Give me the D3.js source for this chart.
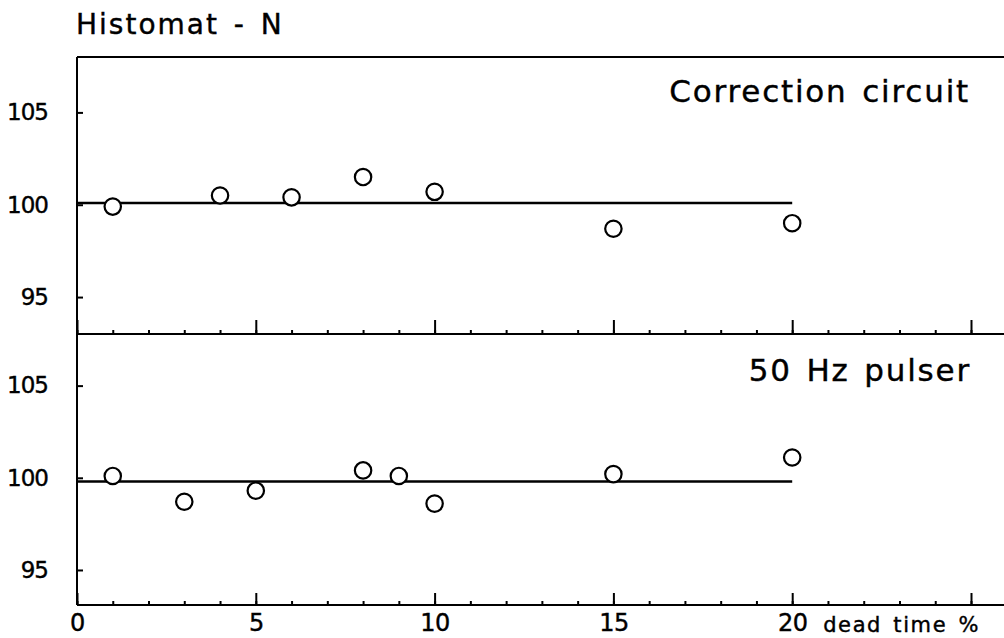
<!DOCTYPE html>
<html>
<head>
<meta charset="utf-8">
<script src="https://cdn.jsdelivr.net/npm/d3@7"></script>
<style>
  html, body { margin: 0; padding: 0; background: #fff; }
  svg { display: block; }
  text { font-family: "DejaVu Sans", sans-serif; fill: #000; stroke: #000; stroke-width: 0.4; }
</style>
</head>
<body>
<svg id="chart" width="1004" height="638"></svg>
<script>
// Dead-time correction check, Histomat-N counter
const deadTimeTop = [1, 4, 6, 8, 10, 15, 20];
const ratioTop = [99.9, 100.5, 100.4, 101.5, 100.7, 98.7, 99.0];
const referenceTop = 100.1;

const deadTimeBottom = [1, 3, 5, 8, 9, 10, 15, 20];
const ratioBottom = [100.1, 98.7, 99.3, 100.4, 100.1, 98.6, 100.2, 101.1];
const referenceBottom = 99.8;

const xMajorTicks = [0, 5, 10, 15, 20, 25];
const xLabels = ["0", "5", "10", "15", "20", ""];
const yTicks = [95, 100, 105];
const panelTitles = ["Correction circuit", "50 Hz pulser"];

const svg = d3.select("#chart");
const leftX = 77, rightX = 1004;
const topY = 57, midY = 334, bottomY = 605;

const x = d3.scaleLinear().domain([0, 25]).range([leftX, leftX + 25 * 35.76]);
const minorTicks = d3.range(0, 27);

const yTop = d3.scaleLinear().domain([93, 108]).range([midY, topY]);
const yBottom = d3.scaleLinear().domain([93.1, 107.8]).range([bottomY, midY]);

const ink = g => g.selectAll("line, path").attr("stroke", "#000").attr("stroke-width", 2);

// frame lines
svg.append("line").attr("x1", leftX).attr("x2", rightX).attr("y1", topY).attr("y2", topY)
  .attr("stroke", "#000").attr("stroke-width", 2);
svg.append("line").attr("x1", leftX).attr("x2", leftX).attr("y1", topY).attr("y2", bottomY)
  .attr("stroke", "#000").attr("stroke-width", 2);

// horizontal axes (ticks point up into each panel)
function xAxis(yPos, majorLen, showLabels) {
  svg.append("line").attr("x1", leftX).attr("x2", rightX).attr("y1", yPos).attr("y2", yPos)
    .attr("stroke", "#000").attr("stroke-width", 2);
  svg.append("g").attr("transform", `translate(0,${yPos})`)
    .call(d3.axisBottom(x).tickValues(minorTicks).tickSizeInner(-4).tickSizeOuter(0).tickFormat(""))
    .call(g => g.select(".domain").remove())
    .call(ink);
  const g = svg.append("g").attr("transform", `translate(0,${yPos})`)
    .call(d3.axisBottom(x).tickValues(xMajorTicks).tickSizeInner(-majorLen).tickSizeOuter(0)
      .tickPadding(9).tickFormat((d, i) => showLabels ? xLabels[i] : ""))
    .call(g => g.select(".domain").remove())
    .call(ink);
  g.selectAll("text").attr("font-size", 24).attr("font-family", "DejaVu Sans")
    .attr("fill", "#000").attr("letter-spacing", -0.5);
}
xAxis(midY, 14, false);
xAxis(bottomY, 12, true);

svg.append("text").attr("x", 980).attr("y", 632).attr("text-anchor", "end")
  .attr("font-size", 21).attr("letter-spacing", 1.6).attr("word-spacing", 3).text("dead time %");

// vertical axes for both panels
function yAxis(scale) {
  const g = svg.append("g").attr("transform", `translate(${leftX},0)`)
    .call(d3.axisLeft(scale).tickValues(yTicks).tickSizeInner(-6).tickSizeOuter(0).tickPadding(29))
    .call(g => g.select(".domain").remove())
    .call(ink);
  g.selectAll("text").attr("font-size", 23).attr("font-family", "DejaVu Sans")
    .attr("fill", "#000").attr("letter-spacing", -1);
}
yAxis(yTop);
yAxis(yBottom);

// reference lines and measured points
function panel(xs, ys, ref, scale) {
  svg.append("line").attr("x1", x(0)).attr("x2", x(20))
    .attr("y1", scale(ref)).attr("y2", scale(ref))
    .attr("stroke", "#000").attr("stroke-width", 2.5);
  svg.append("g").selectAll("circle").data(xs).join("circle")
    .attr("cx", d => x(d)).attr("cy", (d, i) => scale(ys[i])).attr("r", 8.2)
    .attr("fill", "#fff").attr("stroke", "#000").attr("stroke-width", 2.2);
}
panel(deadTimeTop, ratioTop, referenceTop, yTop);
panel(deadTimeBottom, ratioBottom, referenceBottom, yBottom);

// titles
svg.append("text").attr("x", 76).attr("y", 34).attr("font-size", 28)
  .attr("letter-spacing", 2).attr("word-spacing", 4).text("Histomat - N");
svg.append("text").attr("x", 970).attr("y", 102).attr("text-anchor", "end")
  .attr("font-size", 31).attr("letter-spacing", 1.8).attr("word-spacing", 3).text(panelTitles[0]);
svg.append("text").attr("x", 971).attr("y", 381).attr("text-anchor", "end")
  .attr("font-size", 31).attr("letter-spacing", 1.8).attr("word-spacing", 3).text(panelTitles[1]);
</script>
</body>
</html>
